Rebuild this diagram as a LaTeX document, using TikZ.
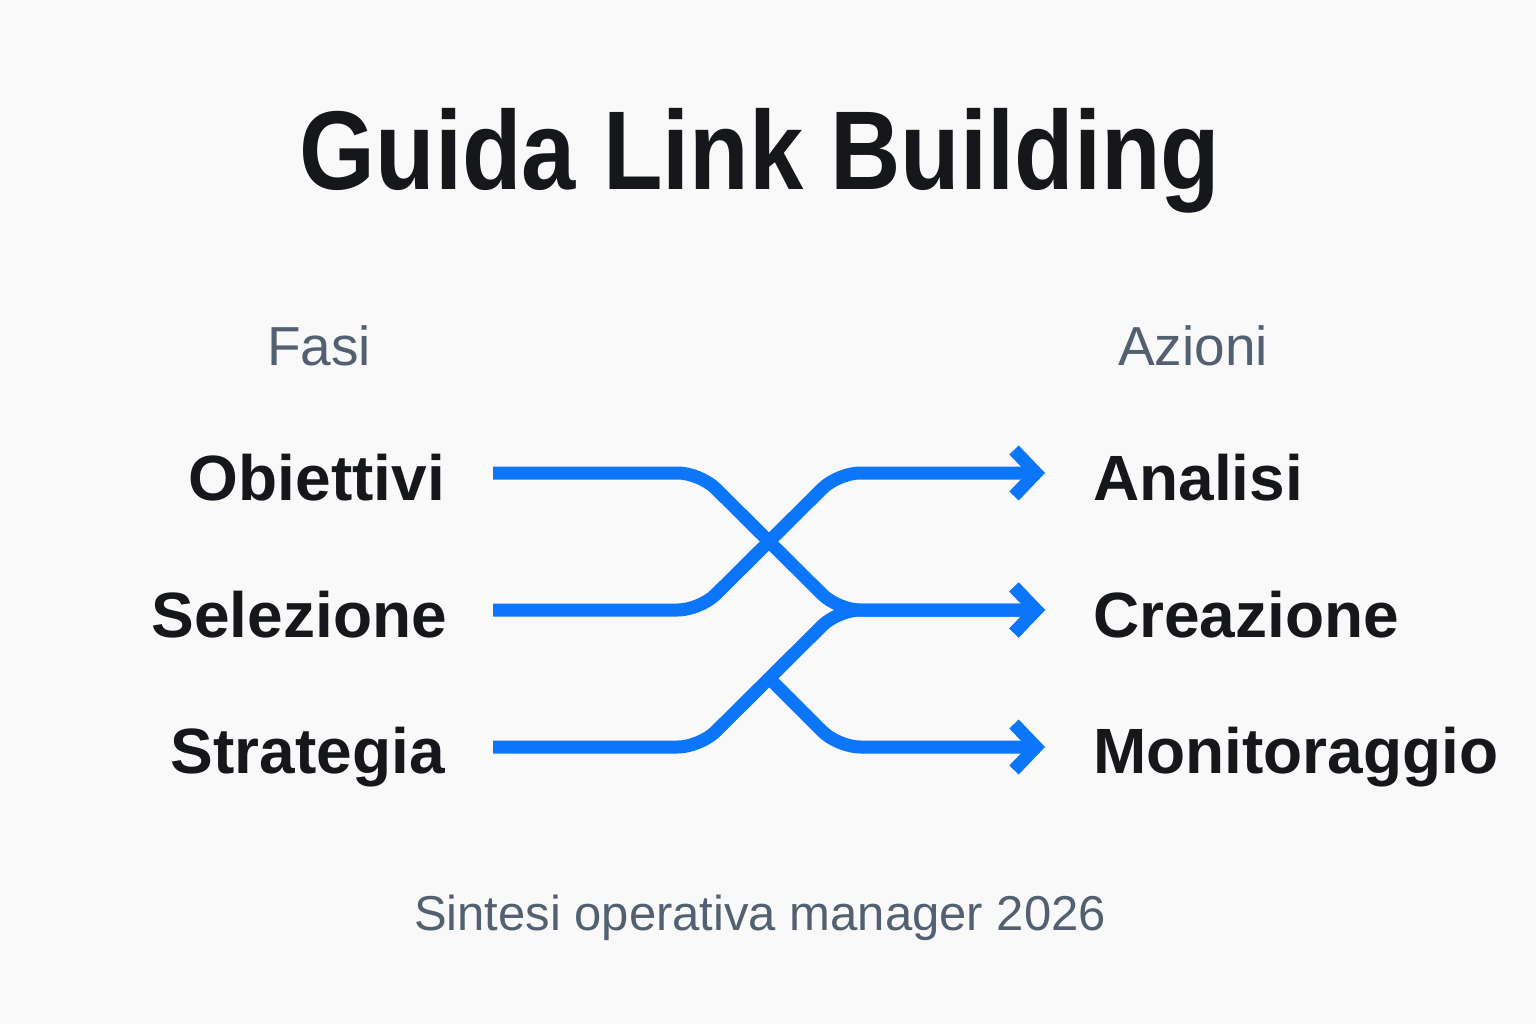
\documentclass[tikz,border=0pt]{standalone}
\usepackage{fontspec}
\usepackage{graphicx}
\setmainfont{Liberation Sans}
\usetikzlibrary{arrows.meta}
\definecolor{bg}{HTML}{F9F9F9}
\definecolor{ink}{HTML}{15171B}
\definecolor{muted}{HTML}{526071}
\definecolor{flowblue}{HTML}{0B76FA}
\tikzset{
  titletext/.style={font=\fontsize{112}{120}\selectfont\bfseries, text=ink, inner sep=0pt},
  headtext/.style={font=\fontsize{55}{60}\selectfont, text=muted, inner sep=0pt},
  leftlabel/.style={font=\fontsize{64}{72}\selectfont\bfseries, text=ink, inner sep=0pt, anchor=base east},
  rightlabel/.style={font=\fontsize{64}{72}\selectfont\bfseries, text=ink, inner sep=0pt, anchor=base west},
  subtext/.style={font=\fontsize{49}{56}\selectfont, text=muted, inner sep=0pt},
  flow/.style={draw=flowblue, line width=13pt, rounded corners=22pt, line join=round},
  flowarrow/.style={flow, -{Straight Barb[length=22pt,width=46pt]}},
}
\begin{document}
\begin{tikzpicture}[x=1pt,y=-1pt]
\fill[bg] (0,0) rectangle (1536,1024);
\useasboundingbox (0,0) rectangle (1536,1024);

\node[titletext, anchor=base] (title) at (760,190) {\scalebox{0.87}[1]{Guida Link Building}};
\node[headtext, anchor=base] (fasi) at (319,365) {Fasi};
\node[headtext, anchor=base] (azioni) at (1193,365) {Azioni};

\node[leftlabel] (obiettivi) at (445,500) {Obiettivi};
\node[leftlabel] (selezione) at (447,637) {Selezione};
\node[leftlabel] (strategia) at (445,773) {Strategia};

\node[rightlabel] (analisi) at (1093,500) {Analisi};
\node[rightlabel] (creazione) at (1093,637) {Creazione};
\node[rightlabel] (monitoraggio) at (1093,773) {Monitoraggio};

\node[subtext, anchor=base] (sub) at (760,930) {Sintesi operativa manager 2026};

\coordinate (s1) at (493,473);
\coordinate (s2) at (493,610);
\coordinate (s3) at (493,747);
\coordinate (b1) at (700,473);
\coordinate (b2) at (700,610);
\coordinate (b3) at (700,747);
\coordinate (t1) at (838,473);
\coordinate (t2) at (838,610);
\coordinate (t3) at (838,747);
\coordinate (br) at (769,678);
\coordinate (e1) at (1045,473);
\coordinate (e2) at (1045,610);
\coordinate (e3) at (1045,747);

\draw[flowarrow] (s1) -- (b1) -- (t2) -- (e2);
\draw[flowarrow] (s2) -- (b2) -- (t1) -- (e1);
\draw[flowarrow] (s3) -- (b3) -- (t2) -- (e2);
\draw[flowarrow] (br) -- (t3) -- (e3);
\end{tikzpicture}
\end{document}
